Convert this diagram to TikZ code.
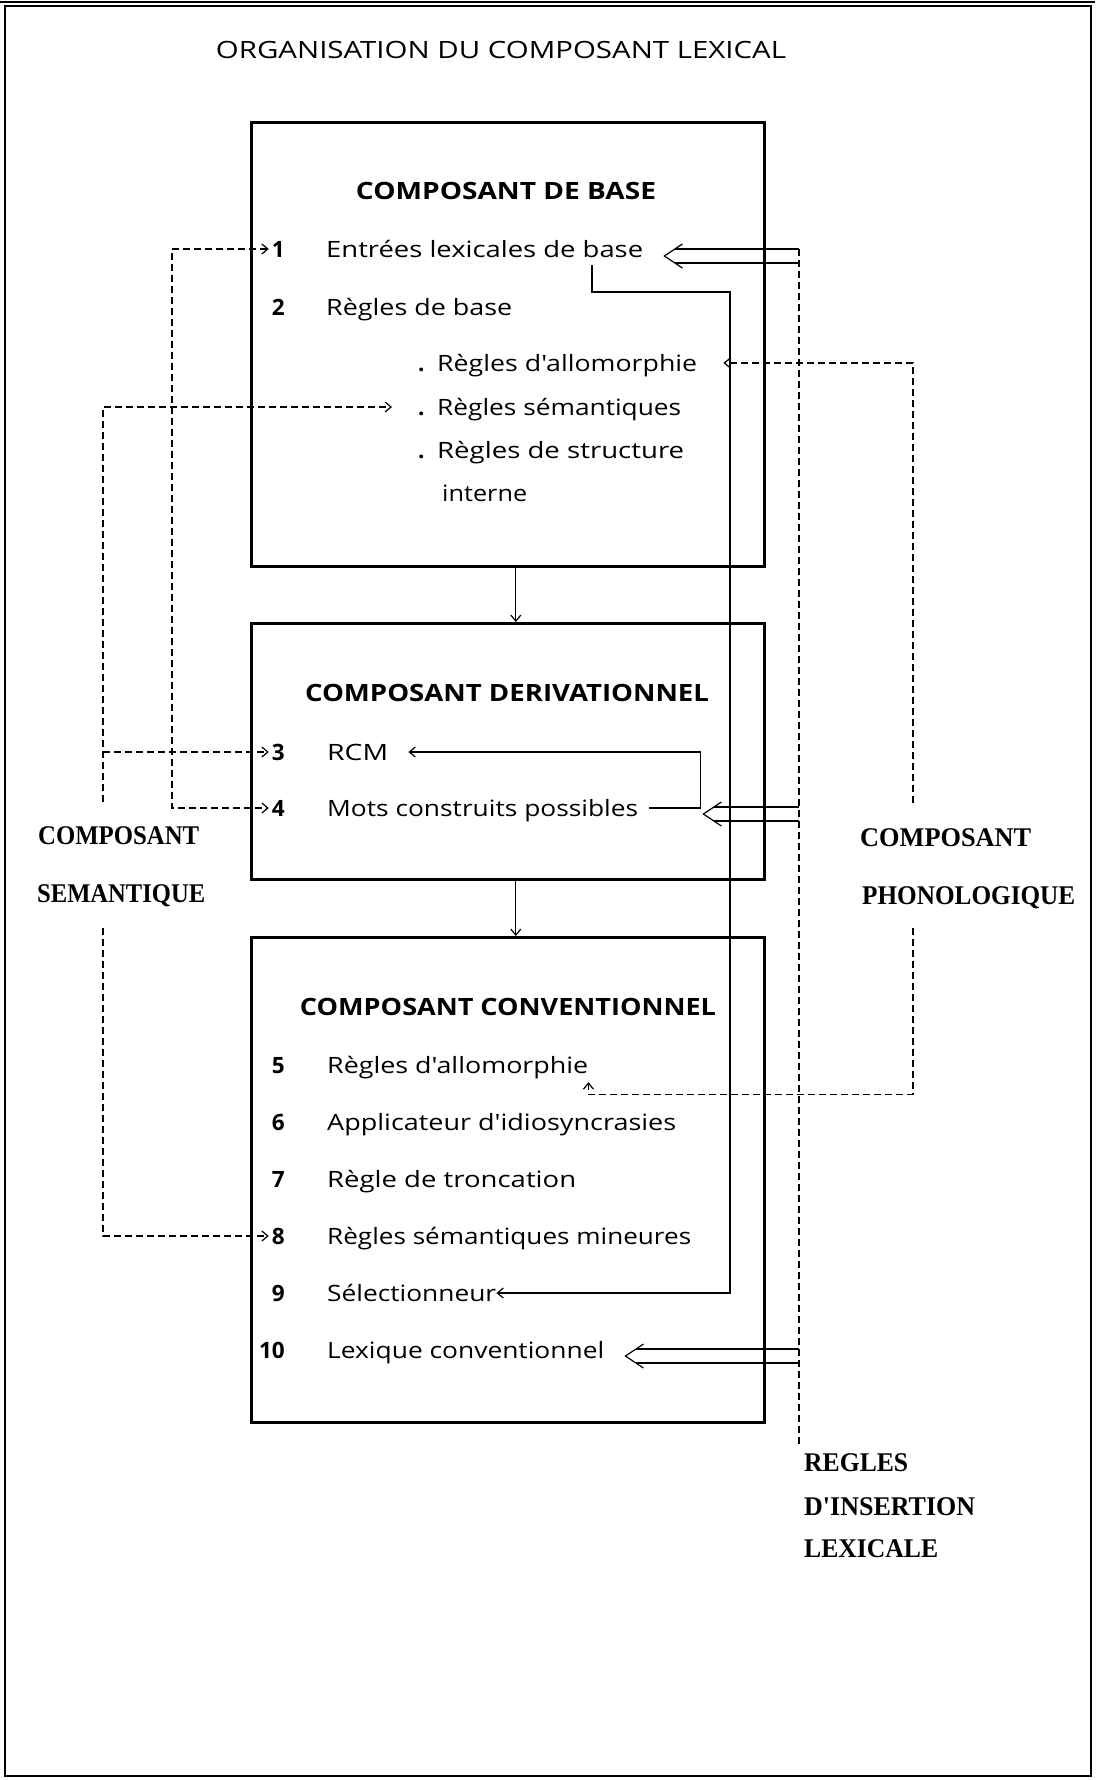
\documentclass[tikz,border=0pt]{standalone}
\usepackage{fontspec}
\usepackage{graphicx}
\usetikzlibrary{arrows.meta,calc}
\newfontfamily\bodyfont{Open Sans}
\newfontfamily\sidefont{Liberation Serif}
% set a text to a given width, keeping its height
\newcommand{\fw}[2]{\resizebox{#1}{\height}{#2}}
% hollow double arrow: tip at #1, shaft running back to the vertical through #2
\newcommand{\hollowarrow}[2]{%
  \draw[conn] ($(#1)+(18,-12)$) -- (#1) -- ($(#1)+(18,12)$);%
  \draw[conn] ($(#1)+(10.5,-7)$) -- ($(#1 -| #2)+(0,-7)$);%
  \draw[conn] ($(#1)+(10.5,7)$) -- ($(#1 -| #2)+(0,7)$);%
}
\begin{document}
\begin{tikzpicture}[x=1pt,y=-1pt,
  framebox/.style={draw, line width=2.6pt, inner sep=0pt, anchor=north west},
  conn/.style={line width=1.2pt},
  dsh/.style={conn, dash pattern=on 7pt off 4pt},
  endtip/.style={-{Straight Barb[length=6pt,width=10pt]}},
  bothtips/.style={{Straight Barb[length=6pt,width=10pt]}-{Straight Barb[length=6pt,width=10pt]}},
  item/.style={anchor=west, inner sep=0pt, text height=16pt, text depth=0pt,
               font=\bodyfont\fontsize{22.5}{27}\selectfont},
  num/.style={anchor=east, inner sep=0pt, text height=16pt, text depth=0pt,
              font=\bodyfont\bfseries\fontsize{22.5}{27}\selectfont},
  heading/.style={anchor=center, inner sep=0pt, text height=17pt, text depth=0pt,
                  font=\bodyfont\bfseries\fontsize{23.8}{28}\selectfont},
  sidelabel/.style={anchor=west, inner sep=0pt, text height=18pt, text depth=0pt,
                    font=\sidefont\bfseries\fontsize{27}{32}\selectfont},
  ttlstyle/.style={anchor=center, inner sep=0pt, text height=17pt, text depth=0pt,
                   font=\bodyfont\fontsize{23.8}{28}\selectfont},
]
\useasboundingbox (0,0) rectangle (1095,1780);

% page frame
\draw[line width=1.3pt] (5,6) rectangle (1091,1776);
\draw[line width=1.3pt] (0,2) -- (1095,2);

% title
\node[ttlstyle] (ttl) at (501,50) {\fw{570pt}{ORGANISATION DU COMPOSANT LEXICAL}};

% the three components
\node[framebox, minimum width=513pt, minimum height=444pt] (box1) at (250,121) {};
\node[framebox, minimum width=513pt, minimum height=256pt] (box2) at (250,622) {};
\node[framebox, minimum width=513pt, minimum height=485pt] (box3) at (250,936) {};

\node[heading] (h1) at (506,191) {\fw{300pt}{COMPOSANT DE BASE}};
\node[heading] (h2) at (507,693) {\fw{404pt}{COMPOSANT DERIVATIONNEL}};
\node[heading] (h3) at (508,1007) {\fw{416pt}{COMPOSANT CONVENTIONNEL}};

% base component
\node[num] (n1) at (285,249) {1};
\node[item] (e1) at (326,249) {\fw{317pt}{Entrées lexicales de base}};
\node[num] (n2) at (285,307) {2};
\node[item] (e2) at (326,307) {\fw{186pt}{Règles de base}};
\node[item] (b1) at (418,363) {\makebox[19pt][l]{\textbf{.}}\fw{260pt}{Règles d'allomorphie}};
\node[item] (b2) at (418,407) {\makebox[19pt][l]{\textbf{.}}\fw{244pt}{Règles sémantiques}};
\node[item] (b3) at (418,450) {\makebox[19pt][l]{\textbf{.}}\fw{247pt}{Règles de structure}};
\node[item] (b4) at (442,493) {\fw{85pt}{interne}};

% derivational component
\node[num] (n3) at (285,752) {3};
\node[item] (e3) at (327,752) {\fw{61pt}{RCM}};
\node[num] (n4) at (285,808) {4};
\node[item] (e4) at (327,808) {\fw{311pt}{Mots construits possibles}};

% conventional component
\node[num] (n5) at (285,1065) {5};
\node[item] (e5) at (327,1065) {\fw{261pt}{Règles d'allomorphie}};
\node[num] (n6) at (285,1122) {6};
\node[item] (e6) at (327,1122) {\fw{349pt}{Applicateur d'idiosyncrasies}};
\node[num] (n7) at (285,1179) {7};
\node[item] (e7) at (327,1179) {\fw{249pt}{Règle de troncation}};
\node[num] (n8) at (285,1236) {8};
\node[item] (e8) at (327,1236) {\fw{364pt}{Règles sémantiques mineures}};
\node[num] (n9) at (285,1293) {9};
\node[item] (e9) at (327,1293) {\fw{169pt}{Sélectionneur}};
\node[num] (n10) at (285,1350) {10};
\node[item] (e10) at (327,1350) {\fw{277pt}{Lexique conventionnel}};

% outside labels
\node[sidelabel] (sem1) at (38,835) {\fw{161pt}{COMPOSANT}};
\node[sidelabel] (sem2) at (37,893) {\fw{168pt}{SEMANTIQUE}};
\node[sidelabel] (pho1) at (860,837) {\fw{171pt}{COMPOSANT}};
\node[sidelabel] (pho2) at (862,895) {\fw{213pt}{PHONOLOGIQUE}};
\node[sidelabel] (ins1) at (804,1462) {\fw{104pt}{REGLES}};
\node[sidelabel] (ins2) at (804,1506) {\fw{171pt}{D'INSERTION}};
\node[sidelabel] (ins3) at (804,1548) {\fw{134pt}{LEXICALE}};

% flow between components
\draw[conn, endtip] ([xshift=8pt]box1.south) -- ([xshift=8pt]box2.north);
\draw[conn, endtip] ([xshift=8pt]box2.south) -- ([xshift=8pt]box3.north);

% line feeding the selector from the base entries
\coordinate (s1a) at (592,265);
\coordinate (s1b) at (730,292);
\draw[conn, endtip] (s1a) |- (s1b) |- (e9.east);

% possible words back to RCM
\draw[conn, endtip, shorten >=20pt] ([xshift=11pt]e4.east) -- ++(51,0) |- (e3.east);

% lexical insertion rules
\coordinate (r1) at (799,249);
\coordinate (r1end) at (799,1445);
\draw[dsh] (r1) -- (r1end);
\coordinate (t1) at ($(e1.east)+(21,7)$);
\coordinate (t4) at ($(e4.east)+(65,6)$);
\coordinate (t10) at ($(e10.east)+(21,6)$);
\hollowarrow{t1}{r1}
\hollowarrow{t4}{r1}
\hollowarrow{t10}{r1}

% phonological component
\coordinate (r2a) at (913,803);
\coordinate (r2b) at (913,928);
\draw[dsh, endtip, shorten >=26pt] (r2a) |- (b1.east);
\draw[dsh, endtip, shorten >=9pt] (r2b) |- ([yshift=-21pt]e5.south east) -- (e5.south east);

% semantic component
\coordinate (l2a) at (103,802);
\coordinate (l2b) at (103,928);
\draw[dsh, endtip, shorten >=26pt] (l2a) |- (b2.west);
\draw[dsh, endtip, shorten >=3pt] (l2a |- n3.west) -- (n3.west);
\draw[dsh, endtip, shorten >=3pt] (l2b) |- (n8.west);

% base entries to possible words
\coordinate (l1) at (172,500);
\draw[dsh, bothtips, shorten <=3pt, shorten >=3pt] (n1.west) -| (l1) |- (n4.west);
\end{tikzpicture}
\end{document}
